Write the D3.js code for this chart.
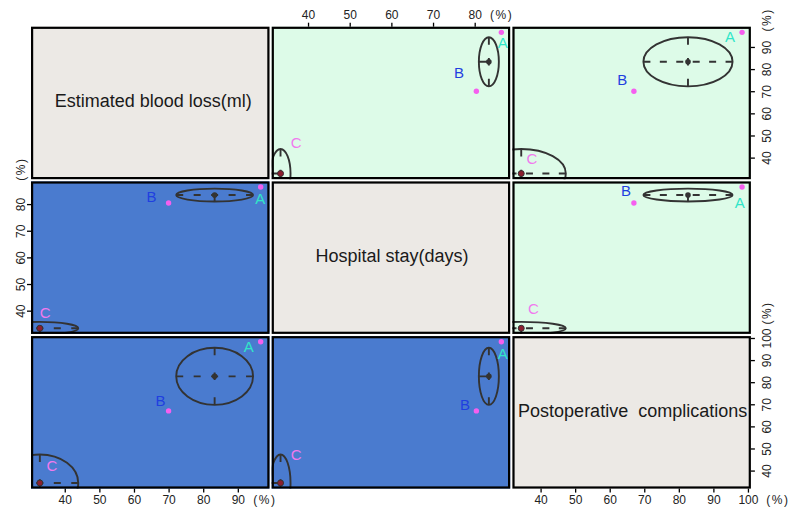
<!DOCTYPE html>
<html>
<head>
<meta charset="utf-8">
<script src="https://cdn.jsdelivr.net/npm/d3@7"></script>
<style>
  body { margin: 0; background: #fff; }
  svg { font-family: "Liberation Sans", Arial, sans-serif; }
</style>
</head>
<body>
<div class="chart"></div>
<script>
// Ranking values (%) for each treatment
const treatments = ["A", "B", "C"];
const outcomes = ["Estimated blood loss(ml)", "Hospital stay(days)", "Postoperative  complications"];
const bloodLoss = [96.6, 70.0, 32.8];
const hospitalStay = [86.4, 80.4, 33.4];
const complications = [98.3, 67.0, 34.4];
// cluster of each treatment and the ellipse spread per outcome
const clusterOf = [0, 0, 1];
const ellipseSpread = [11.1, 2.4, 12.9];
// tick labels of each outcome axis
const tickLabels = [
	[40, 50, 60, 70, 80, 90],
	[40, 50, 60, 70, 80],
	[40, 50, 60, 70, 80, 90, 100]
];

const values = [bloodLoss, hospitalStay, complications];

// Layout constants
const w = 792;
const h = 508;
const marginLeft = 31;
const marginTop = 26.7;
const pw = 238.5;
const ph = 152.5;
const gap = 2.2;

const bgDiag = "#ECE9E5";
const bgUpper = "#DDFBE8";
const bgLower = "#4A7BCF";
const pointColor = "#F55FEF";
const labelColor = ["#30E6C8", "#1F3FE0", "#F07AEE"];
const centerColor = ["#333333", "#8B1E2E"];

// label offsets (px) from each point, per panel "row-col"
const labelShift = {
	"0-1": [[1.3, 10.4], [-17.3, -19], [15.7, -30.6]],
	"0-2": [[-12, 4.4], [-11.7, -11.7], [10.7, -15]],
	"1-0": [[-0.3, 11], [-17, -6.6], [5.3, -16]],
	"1-2": [[-2.4, 15.4], [-8, -12.6], [12.3, -19.4]],
	"2-0": [[-12, 4.4], [-8, -10.7], [12, -17]],
	"2-1": [[1.3, 11.7], [-11.3, -6.7], [15.7, -28]]
};

const colX = [0, 1, 2].map(j => marginLeft + j * (pw + gap));
const rowY = [0, 1, 2].map(i => marginTop + i * (ph + gap));

// Domains: data extent padded by 4% like R's pairs()
const domains = values.map(v => {
	const ext = d3.extent(v);
	const pad = (ext[1] - ext[0]) * 0.04;
	return [ext[0] - pad, ext[1] + pad];
});

const xScales = domains.map((d, j) => d3.scaleLinear().domain(d).range([colX[j], colX[j] + pw]));
const yScales = domains.map((d, i) => d3.scaleLinear().domain(d).range([rowY[i] + ph, rowY[i]]));

// cluster centers (mean of members)
const clusters = d3.groups(treatments.map((t, k) => k), k => clusterOf[k]).map(([c, ks]) => ({
	id: c,
	center: values.map(v => d3.mean(ks, k => v[k]))
}));

const svg = d3.select(".chart").append("svg")
	.attr("width", w)
	.attr("height", h);

const defs = svg.append("defs");

// dash pattern for the ellipse axes
function dashFor(len, vertical) {
	if (len < 30) return (len / 2 + 0.5) + "," + len;
	const n = vertical ? 3 : Math.round(len / 18) + 1;
	const d = vertical ? 7.5 : 7;
	const g = (len - n * d) / (n - 1);
	return d + "," + g;
}

for (let i = 0; i < 3; i++) {
	for (let j = 0; j < 3; j++) {
		const x0 = colX[j];
		const y0 = rowY[i];
		const g = svg.append("g");
		const fill = i === j ? bgDiag : (i < j ? bgUpper : bgLower);

		g.append("rect")
			.attr("x", x0).attr("y", y0)
			.attr("width", pw).attr("height", ph)
			.attr("fill", fill);

		if (i === j) {
			g.append("text")
				.attr("x", x0 + pw / 2 + (i === 0 ? 3 : 1))
				.attr("y", y0 + ph / 2 - 1.5)
				.attr("text-anchor", "middle")
				.attr("dominant-baseline", "central")
				.style("white-space", "pre")
				.attr("font-size", 18)
				.attr("fill", "#1a1a1a")
				.text(outcomes[i]);
		} else {
			const xs = xScales[j];
			const ys = yScales[i];
			const clipId = "clip-" + i + "-" + j;
			defs.append("clipPath").attr("id", clipId)
				.append("rect")
				.attr("x", x0).attr("y", y0)
				.attr("width", pw).attr("height", ph);

			const inner = g.append("g").attr("clip-path", "url(#" + clipId + ")");

			// points
			inner.selectAll(".pt")
				.data(treatments)
				.join("circle")
				.attr("class", "pt")
				.attr("cx", (t, k) => xs(values[j][k]))
				.attr("cy", (t, k) => ys(values[i][k]))
				.attr("r", 2.7)
				.attr("fill", pointColor);

			// cluster ellipses
			clusters.forEach(c => {
				const cx = xs(c.center[j]);
				const cy = ys(c.center[i]);
				const rx = Math.abs(xs(c.center[j] + ellipseSpread[j]) - cx);
				const ry = Math.abs(ys(c.center[i] + ellipseSpread[i]) - cy);
				inner.append("ellipse")
					.attr("cx", cx).attr("cy", cy)
					.attr("rx", rx).attr("ry", ry)
					.attr("fill", "none")
					.attr("stroke", "#333")
					.attr("stroke-width", 1.9);
				inner.append("line")
					.attr("x1", cx - rx).attr("x2", cx + rx)
					.attr("y1", cy).attr("y2", cy)
					.attr("stroke", "#333")
					.attr("stroke-width", 1.9)
					.attr("stroke-dasharray", dashFor(2 * rx, false));
				inner.append("line")
					.attr("x1", cx).attr("x2", cx)
					.attr("y1", cy + ry).attr("y2", cy - ry)
					.attr("stroke", "#333")
					.attr("stroke-width", 1.9)
					.attr("stroke-dasharray", dashFor(2 * ry, true));
				inner.append("circle")
					.attr("cx", cx).attr("cy", cy)
					.attr("r", c.id === 0 ? 2.8 : 3)
					.attr("fill", centerColor[c.id])
					.attr("stroke", "#333")
					.attr("stroke-width", c.id === 0 ? 0 : 1);
			});

			// treatment labels
			const shift = labelShift[i + "-" + j];
			g.selectAll(".lab")
				.data(treatments)
				.join("text")
				.attr("class", "lab")
				.attr("x", (t, k) => xs(values[j][k]) + shift[k][0])
				.attr("y", (t, k) => ys(values[i][k]) + shift[k][1])
				.attr("text-anchor", "middle")
				.attr("dominant-baseline", "central")
				.attr("font-size", 15)
				.attr("fill", (t, k) => labelColor[k])
				.text(t => t);
		}

		// panel border
		g.append("rect")
			.attr("x", x0 + 1.1).attr("y", y0 + 1.1)
			.attr("width", pw - 2.2).attr("height", ph - 2.2)
			.attr("fill", "none")
			.attr("stroke", "#000")
			.attr("stroke-width", 2.2);
	}
}

// Axes: top for column 2, bottom for columns 1 and 3, right for rows 1 and 3, left for row 2
function styleAxis(sel) {
	sel.select(".domain").remove();
	sel.selectAll(".tick line").attr("stroke", "#000").attr("stroke-width", 1.3);
	sel.selectAll(".tick text")
		.attr("font-size", 12)
		.attr("fill", "#222")
		.attr("font-family", "\"Liberation Sans\", Arial, sans-serif");
}

function horizontalAxis(j, side) {
	const scale = xScales[j];
	const axis = (side === "top" ? d3.axisTop(scale) : d3.axisBottom(scale))
		.tickValues(tickLabels[j]).tickSize(4).tickPadding(3);
	const yPos = side === "top" ? rowY[0] : rowY[2] + ph;
	const g = svg.append("g")
		.attr("transform", "translate(0," + yPos + ")")
		.call(axis)
		.call(styleAxis);
	g.selectAll(".tick text")
		.attr("y", side === "top" ? -11.5 : 11.5)
		.attr("dy", null)
		.attr("dominant-baseline", "central");
	const last = tickLabels[j][tickLabels[j].length - 1];
	g.append("text")
		.attr("x", scale(last) + (last >= 100 ? 30 : 27))
		.attr("y", side === "top" ? -11.5 : 11.5)
		.attr("text-anchor", "middle")
		.attr("dominant-baseline", "central")
		.attr("font-size", 12)
		.attr("letter-spacing", 1.5)
		.attr("fill", "#222")
		.text("(%)");
}

function verticalAxis(i, side) {
	const scale = yScales[i];
	const axis = (side === "left" ? d3.axisLeft(scale) : d3.axisRight(scale))
		.tickValues(tickLabels[i]).tickSize(4);
	const xPos = side === "left" ? colX[0] : colX[2] + pw;
	const dist = side === "left" ? -10 : 16;
	const g = svg.append("g")
		.attr("transform", "translate(" + xPos + ",0)")
		.call(axis)
		.call(styleAxis);
	g.selectAll(".tick text")
		.attr("x", 0)
		.attr("y", 0)
		.attr("dy", null)
		.attr("text-anchor", "middle")
		.attr("dominant-baseline", "central")
		.attr("transform", "translate(" + dist + ",0) rotate(-90)");
	const last = tickLabels[i][tickLabels[i].length - 1];
	const off = side === "left" ? 35 : (last >= 100 ? 25 : 27);
	g.append("text")
		.attr("transform", "translate(" + dist + "," + (scale(last) - off) + ") rotate(-90)")
		.attr("text-anchor", "middle")
		.attr("dominant-baseline", "central")
		.attr("font-size", 12)
		.attr("letter-spacing", 1.5)
		.attr("fill", "#222")
		.text("(%)");
}

horizontalAxis(1, "top");
horizontalAxis(0, "bottom");
horizontalAxis(2, "bottom");
verticalAxis(0, "right");
verticalAxis(1, "left");
verticalAxis(2, "right");
</script>
</body>
</html>
